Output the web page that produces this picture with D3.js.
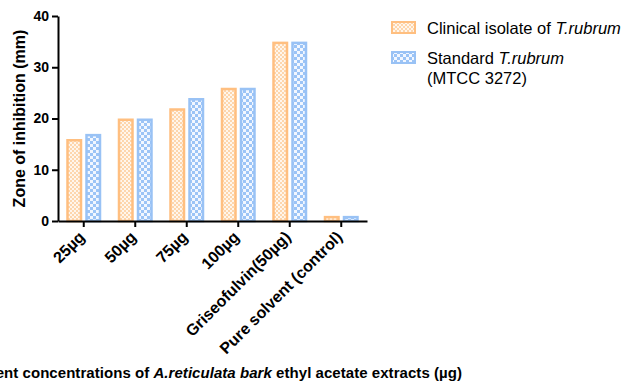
<!DOCTYPE html>
<html lang="en">
<head>
<meta charset="UTF-8">
<title>Zone of inhibition</title>
<script src="https://d3js.org/d3.v7.min.js"></script>
<style>
  body { margin: 0; background: #fff; }
  svg { display: block; font-family: Arial, "Liberation Sans", sans-serif; }
</style>
</head>
<body>
<svg id="chart" width="629" height="383"></svg>
<script>
const categories = ["25µg", "50µg", "75µg", "100µg", "Griseofulvin(50µg)", "Pure solvent (control)"];
const clinical = [16, 20, 22, 26, 35, 1];
const standard = [17, 20, 24, 26, 35, 1];
const yTicks = [0, 10, 20, 30, 40];

const width = 629, height = 383;
const margin = { left: 58, right: 262, top: 16, bottom: 162 };

const svg = d3.select("#chart");

// bar fill patterns
const defs = svg.append("defs");
const orangePat = defs.append("pattern").attr("id", "pOrange")
  .attr("width", 4).attr("height", 4).attr("patternUnits", "userSpaceOnUse");
orangePat.append("rect").attr("width", 4).attr("height", 4).attr("fill", "#fdd6ad");
orangePat.append("rect").attr("width", 2).attr("height", 2).attr("fill", "#fff6ec");
orangePat.append("rect").attr("x", 2).attr("y", 2).attr("width", 2).attr("height", 2).attr("fill", "#fff6ec");

const bluePat = defs.append("pattern").attr("id", "pBlue")
  .attr("width", 6).attr("height", 6).attr("patternUnits", "userSpaceOnUse");
bluePat.append("rect").attr("width", 6).attr("height", 6).attr("fill", "#9cc4f6");
bluePat.append("rect").attr("width", 3).attr("height", 3).attr("fill", "#f2f7ff");
bluePat.append("rect").attr("x", 3).attr("y", 3).attr("width", 3).attr("height", 3).attr("fill", "#f2f7ff");

const x = d3.scaleBand()
  .domain(categories)
  .range([margin.left, width - margin.right])
  .padding(0);

const y = d3.scaleLinear()
  .domain([0, 40])
  .range([height - margin.bottom, margin.top]);

const series = [
  { values: clinical, stroke: "#ffbf80", fill: "url(#pOrange)", offset: -17.5 },
  { values: standard, stroke: "#99c2f5", fill: "url(#pBlue)", offset: 1.5 }
];
const barW = 16;

series.forEach(s => {
  svg.append("g").selectAll("rect")
    .data(categories)
    .join("rect")
    .attr("x", d => x(d) + x.bandwidth() / 2 + s.offset + 1.25)
    .attr("y", (d, i) => y(s.values[i]) + 1.25)
    .attr("width", barW - 2.5)
    .attr("height", (d, i) => Math.max(0, y(0) - y(s.values[i]) - 1.25))
    .attr("fill", s.fill)
    .attr("stroke", s.stroke)
    .attr("stroke-width", 2.5);
});

// y axis
const yAxis = svg.append("g")
  .attr("transform", `translate(${margin.left},0)`)
  .call(d3.axisLeft(y).tickValues(yTicks).tickSize(6).tickSizeOuter(0).tickPadding(3));
yAxis.select(".domain").attr("stroke", "#000").attr("stroke-width", 2);
yAxis.selectAll(".tick line").attr("stroke", "#000").attr("stroke-width", 2);
yAxis.selectAll(".tick text")
  .attr("fill", "#000")
  .style("font-size", "14px")
  .style("font-weight", "bold")
  .style("font-family", "Arial, 'Liberation Sans', sans-serif");

// x axis
const xAxis = svg.append("g")
  .attr("transform", `translate(0,${y(0)})`)
  .call(d3.axisBottom(x).tickSize(6).tickSizeOuter(0));
xAxis.select(".domain").attr("stroke", "#000").attr("stroke-width", 2);
xAxis.selectAll(".tick line").attr("stroke", "#000").attr("stroke-width", 2);
xAxis.selectAll(".tick text")
  .attr("fill", "#000")
  .style("font-size", "16px")
  .style("font-weight", "bold")
  .style("font-family", "Arial, 'Liberation Sans', sans-serif")
  .attr("text-anchor", "end")
  .attr("x", 0).attr("y", 0)
  .attr("dy", 0)
  .attr("transform", "translate(2,17) rotate(-45)");

// axis titles
svg.append("text")
  .attr("transform", `translate(25,${(y(0) + y(40)) / 2}) rotate(-90)`)
  .attr("text-anchor", "middle")
  .style("font-size", "16px")
  .style("font-weight", "bold")
  .text("Zone of inhibition (mm)");

const xt = svg.append("text")
  .attr("x", 462)
  .attr("y", 378)
  .attr("text-anchor", "end")
  .style("font-size", "15px")
  .style("letter-spacing", "0.05px")
  .style("font-weight", "bold");
xt.append("tspan").text("Different concentrations of ");
xt.append("tspan").attr("font-style", "italic").text("A.reticulata bark");
xt.append("tspan").text(" ethyl acetate extracts (µg)");

// legend
const legend = svg.append("g").attr("transform", "translate(391,0)");
const legItems = [
  { fill: "url(#pOrange)", stroke: "#ffbf80", y: 21, base: 34, lines: [["Clinical isolate of ", "T.rubrum"]] },
  { fill: "url(#pBlue)", stroke: "#99c2f5", y: 51, base: 64, lines: [["Standard ", "T.rubrum"], ["(MTCC 3272)", ""]] }
];
legItems.forEach(it => {
  legend.append("rect")
    .attr("x", 1).attr("y", it.y + 1)
    .attr("width", 23).attr("height", 11)
    .attr("fill", it.fill).attr("stroke", it.stroke).attr("stroke-width", 2);
  const t = legend.append("text")
    .attr("x", 36).attr("y", it.base)
    .style("font-size", "16.5px");
  it.lines.forEach((ln, i) => {
    t.append("tspan").attr("x", 36).attr("dy", i === 0 ? 0 : 20).text(ln[0]);
    if (ln[1]) t.append("tspan").attr("font-style", "italic").text(ln[1]);
  });
});
</script>
</body>
</html>
